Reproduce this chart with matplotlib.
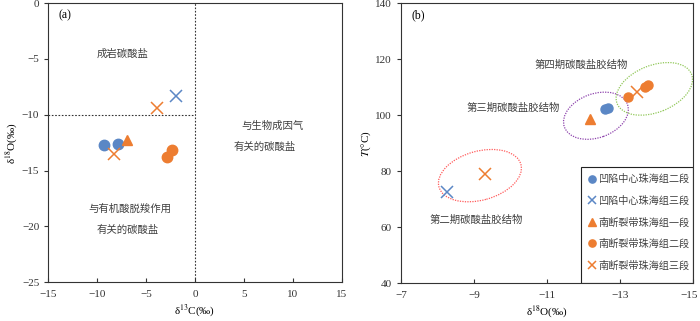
import matplotlib
matplotlib.use("Agg")
from matplotlib import pyplot as plt
from matplotlib.patches import Ellipse, Rectangle
from matplotlib.transforms import ScaledTranslation

plt.rcParams['font.family'] = ['Liberation Serif', 'Noto Sans CJK SC']
plt.rcParams['mathtext.fontset'] = 'stix'
plt.rcParams['axes.unicode_minus'] = True

BLUE = '#5B87C5'
ORANGE = '#ED7D31'
GREY = '#404040'

series_names = ["凹陷中心珠海组二段", "凹陷中心珠海组三段", "南断裂带珠海组一段",
                "南断裂带珠海组二段", "南断裂带珠海组三段"]

# panel (a): delta13C, delta18O
a_c13 = [[-9.3, -7.9], [-1.9], [-7.0], [-2.3, -2.9], [-8.3, -3.9]]
a_o18 = [[-12.7, -12.6], [-8.3], [-12.3], [-13.2, -13.8], [-13.5, -9.35]]

# panel (b): delta18O, temperature
b_o18 = [[-12.59, -12.67], [-8.27], [-12.18], [-13.21, -13.68, -13.77], [-9.3, -13.46]]
b_temp = [[102.1, 102.7], [72.4], [98.8], [106.5, 110.2, 110.9], [79.0, 108.3]]

# cement stage zones: label, centre (d18O, T), colour
stage_labels = ["第二期碳酸盐胶结物", "第三期碳酸盐胶结物", "第四期碳酸盐胶结物"]
stage_centres = [(-9.16, 78.4), (-12.34, 99.8), (-13.94, 109.4)]
stage_colors = ['#FF5B5B', '#8E44AD', '#92C85A']

styles = [
    dict(marker='o', color=BLUE, ms=7.5),
    dict(marker='x', color=BLUE, ms=8, mew=1.1),
    dict(marker='^', color=ORANGE, ms=7),
    dict(marker='o', color=ORANGE, ms=7.5),
    dict(marker='x', color=ORANGE, ms=8, mew=1.1),
]

fig = plt.figure(figsize=(7, 3.21), dpi=100)
ax1 = fig.add_axes([0.069, 0.121, 0.419, 0.869])
ax2 = fig.add_axes([0.573, 0.118, 0.417, 0.872])

for ax in (ax1, ax2):
    for sp in ax.spines.values():
        sp.set_linewidth(0.8)
        sp.set_color('#333333')
    ax.tick_params(axis='x', direction='in', length=3, labelsize=8, colors='#333333', pad=6)
    ax.tick_params(axis='y', direction='out', length=3, labelsize=8, colors='#333333')

# ---- panel (a)
for i, st in enumerate(styles):
    ax1.plot(a_c13[i], a_o18[i], ls='none', **st)
ax1.axvline(0, color='#333333', ls=(0, (1.5, 1.5)), lw=0.8)
ax1.plot([-15, 0], [-10, -10], color='#333333', ls=(0, (1.5, 1.5)), lw=0.8)
ax1.set_xlim(-15, 15)
ax1.set_ylim(-25, 0)
ax1.set_xticks(range(-15, 16, 5))
ax1.set_yticks(range(-25, 1, 5))
ax1.set_xlabel(r"δ$^{13}$C(‰)", fontsize=8, labelpad=2)
ax1.set_ylabel(r"δ$^{18}$O(‰)", fontsize=8, labelpad=2)
ax1.text(-13.3, -1.1, "(a)", fontsize=8.5, ha='center', va='center')
ax1.text(-7.45, -4.5, "成岩碳酸盐", fontsize=7.5, color=GREY, ha='center', va='center')
ax1.text(7.9, -11.0, "与生物成因气", fontsize=7.5, color=GREY, ha='center', va='center')
ax1.text(7.1, -12.9, "有关的碳酸盐", fontsize=7.5, color=GREY, ha='center', va='center')
ax1.text(-6.7, -18.4, "与有机酸脱羧作用", fontsize=7.5, color=GREY, ha='center', va='center')
ax1.text(-6.9, -20.3, "有关的碳酸盐", fontsize=7.5, color=GREY, ha='center', va='center')

# ---- panel (b)
handles = []
for i, st in enumerate(styles):
    small = dict(st)
    if st['marker'] == 'o':
        small['ms'] = 6.5
    h, = ax2.plot(b_o18[i], b_temp[i], ls='none', label=series_names[i], **small)
    handles.append(h)

# ellipse sizes in pixels (width, height, angle)
ell_px = [(85, 49, 15.4), (67, 44, 19.7), (80, 47, 21.5)]
for (cx, cy), col, (w, h, ang) in zip(stage_centres, stage_colors, ell_px):
    tr = fig.dpi_scale_trans + ScaledTranslation(cx, cy, ax2.transData)
    e = Ellipse((0, 0), w / 100, h / 100, angle=ang, transform=tr,
                fill=False, edgecolor=col, lw=0.9, ls=(0, (1, 1)))
    ax2.add_patch(e)

ax2.text(-9.07, 62.7, stage_labels[0], fontsize=7.5, color=GREY, ha='center', va='center')
ax2.text(-10.08, 102.6, stage_labels[1], fontsize=7.5, color=GREY, ha='center', va='center')
ax2.text(-11.95, 117.9, stage_labels[2], fontsize=7.5, color=GREY, ha='center', va='center')
ax2.text(-7.47, 135.7, "(b)", fontsize=8.5, ha='center', va='center')

ax2.set_xlim(-7, -15)
ax2.set_ylim(40, 140)
ax2.set_xticks(range(-7, -16, -2))
ax2.set_yticks(range(40, 141, 20))
ax2.set_xlabel(r"δ$^{18}$O(‰)", fontsize=8, labelpad=2)
ax2.set_ylabel(r"$T$(°C)", fontsize=8, labelpad=2)
# keep the last tick label inside the figure
last = ax2.get_xticklabels()[-1]
last.set_transform(last.get_transform() + ScaledTranslation(-4 / 100, 0, fig.dpi_scale_trans))

leg = ax2.legend(handles=handles, loc='upper left', bbox_to_anchor=(0.615, 0.415),
                 borderaxespad=0, fontsize=7.3, frameon=False, markerscale=0.8,
                 labelspacing=1.12, handlelength=0.8, handletextpad=0.3,
                 borderpad=0.7, labelcolor=GREY)
ax2.add_patch(Rectangle((0.615, 0), 0.385, 0.415, transform=ax2.transAxes,
                        fill=False, edgecolor='#222222', lw=0.8, zorder=5))

plt.savefig("out.png", dpi=100)
plt.close()
